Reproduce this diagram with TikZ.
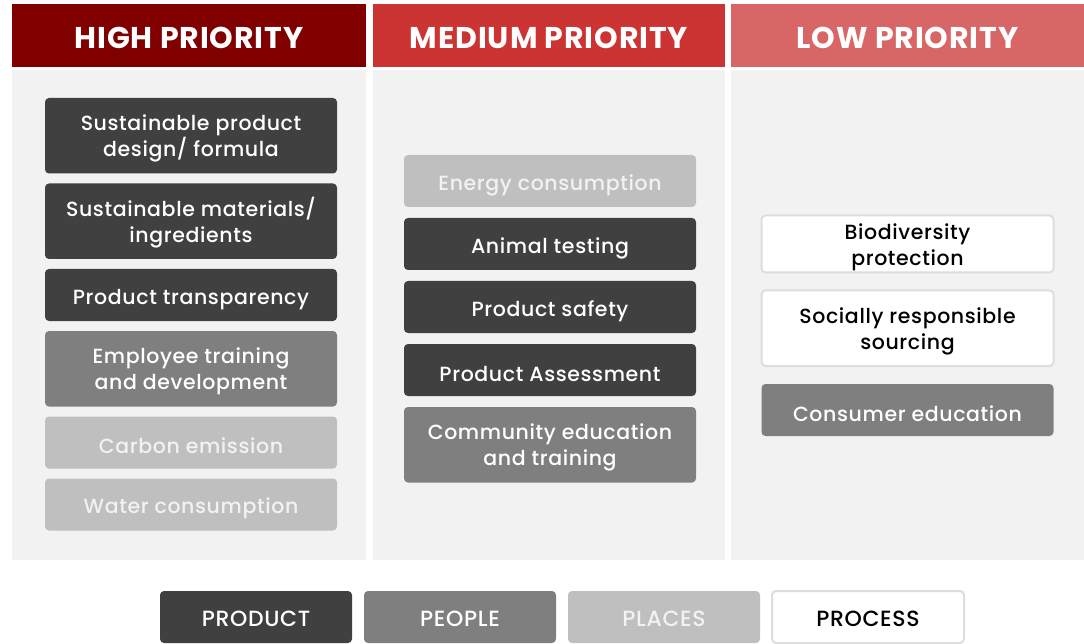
\documentclass[tikz,border=0pt]{standalone}
\usepackage{fontspec}
\setmainfont{Poppins}[UprightFont={* Medium},BoldFont={* Bold},LetterSpace=3]
\usetikzlibrary{positioning}

\definecolor{highred}{HTML}{800000}
\definecolor{medred}{HTML}{CC3333}
\definecolor{lowred}{HTML}{D96666}
\definecolor{colgray}{HTML}{F2F2F2}
\definecolor{productgray}{HTML}{404040}
\definecolor{peoplegray}{HTML}{7F7F7F}
\definecolor{placesgray}{HTML}{BFBFBF}
\definecolor{processline}{HTML}{DDDDDD}

% strut for the first line of two-line boxes
\newcommand\lift{\rule{0pt}{21.5pt}}

\begin{document}
\begin{tikzpicture}[x=1pt,y=-1pt]
\tikzstyle{every node}=[inner sep=0pt,outer sep=0pt];
\tikzstyle{head}=[minimum height=63pt,text height=28pt,text depth=2pt,text=white,font=\fontsize{30}{34}\bfseries\selectfont];
\tikzstyle{colbody}=[fill=colgray,anchor=north];
\tikzstyle{box}=[rounded corners=4pt,minimum width=292pt,minimum height=52pt,align=center,
  font=\fontsize{20.5}{26}\selectfont,
  execute at begin node={\rule{0pt}{24pt}},execute at end node={\rule[-2pt]{0pt}{2pt}}];
\tikzstyle{tall}=[minimum height=75.5pt];
\tikzstyle{product}=[box,fill=productgray,text=white];
\tikzstyle{people}=[box,fill=peoplegray,text=white];
\tikzstyle{places}=[box,fill=placesgray,text=colgray];
\tikzstyle{process}=[box,fill=white,draw=processline,line width=2pt,text=black];
\tikzstyle{legend}=[minimum width=192pt,font=\fontsize{22}{26}\selectfont,execute at end node={\rule[-6pt]{0pt}{6pt}}];
\useasboundingbox (0,0) rectangle (1084,644);

% column headers
\node[head,fill=highred,minimum width=354pt] (high) at (189,35.5) {HIGH PRIORITY};
\node[head,fill=medred,minimum width=352pt] (medium) at (549,35.5) {MEDIUM PRIORITY};
\node[head,fill=lowred,minimum width=353pt] (low) at (907.5,35.5) {LOW PRIORITY};

% column bodies
\node[colbody,minimum width=354pt,minimum height=490pt] (highcol) at (189,70) {};
\node[colbody,minimum width=352pt,minimum height=490pt] (medcol) at (549,70) {};
\node[colbody,minimum width=353pt,minimum height=490pt] (lowcol) at (907.5,70) {};

% high priority
\node[product,tall,anchor=north] (h1) at (191,98) {\lift Sustainable product\\design/ formula};
\node[product,tall,below=10pt of h1] (h2) {\lift Sustainable materials/\\ingredients};
\node[product,below=10pt of h2] (h3) {Product transparency};
\node[people,tall,below=10pt of h3] (h4) {\lift Employee training\\and development};
\node[places,below=10pt of h4] (h5) {Carbon emission};
\node[places,below=10pt of h5] (h6) {Water consumption};

% medium priority
\node[places,anchor=north] (m1) at (550,155) {Energy consumption};
\node[product,below=11pt of m1] (m2) {Animal testing};
\node[product,below=11pt of m2] (m3) {Product safety};
\node[product,below=11pt of m3] (m4) {Product Assessment};
\node[people,tall,below=11pt of m4] (m5) {\lift Community education\\and training};

% low priority
\node[process,minimum height=57pt,anchor=north] (l1) at (907.5,215.5) {\lift Biodiversity\\protection};
\node[process,tall,below=18pt of l1] (l2) {\lift Socially responsible\\sourcing};
\node[people,below=18pt of l2] (l3) {Consumer education};

% legend
\node[product,legend] (kproduct) at (256,617) {PRODUCT};
\node[people,legend,right=12pt of kproduct] (kpeople) {PEOPLE};
\node[places,legend,right=12pt of kpeople] (kplaces) {PLACES};
\node[process,legend,right=12pt of kplaces] (kprocess) {PROCESS};
\end{tikzpicture}
\end{document}
